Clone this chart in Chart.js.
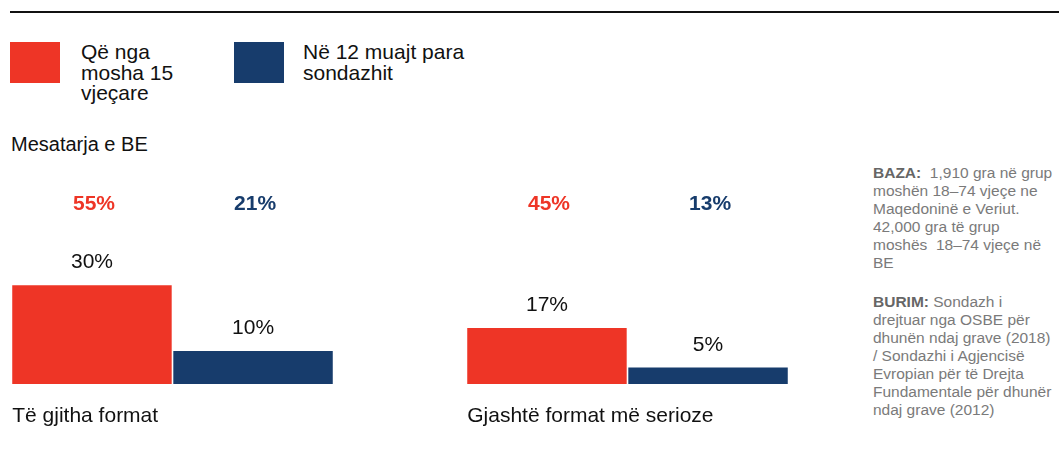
<!DOCTYPE html>
<html lang="sq">
<head>
    <meta charset="UTF-8">
    <title>Dhuna ndaj grave</title>
    <script src="https://cdn.jsdelivr.net/npm/chart.js"></script>
    <style>
        html, body {
            margin: 0;
            padding: 0;
            background: #fff;
            width: 1059px;
            height: 449px;
            overflow: hidden;
            font-family: "Liberation Sans", Arial, sans-serif;
            color: #111;
        }
        .top-rule {
            position: absolute;
            left: 10px;
            right: 0;
            top: 11px;
            height: 2px;
            background: #111;
        }
        .legend-item {
            position: absolute;
            top: 42px;
        }
        .legend-box {
            position: absolute;
            left: 0;
            top: 0;
            width: 50px;
            height: 41px;
        }
        .legend-text {
            position: absolute;
            top: 0;
            font-size: 21px;
            line-height: 20.5px;
            white-space: pre;
        }
        .eu-title {
            position: absolute;
            left: 11px;
            top: 133px;
            font-size: 20px;
            white-space: nowrap;
        }
        .notes {
            position: absolute;
            left: 873px;
            top: 164px;
            font-size: 15.5px;
            line-height: 18px;
            color: #7a7a7a;
        }
        .notes p { margin: 0 0 21px 0; white-space: pre; }
        .notes b { color: #666; }
        #chart-wrap {
            position: absolute;
            left: -55px;
            top: 180px;
            width: 910px;
            height: 260px;
        }
    </style>
</head>
<body>
    <div class="top-rule"></div>
    <div id="legend"></div>
    <div class="eu-title">Mesatarja e BE</div>
    <div class="notes"><p><b>BAZA:</b>  1,910 gra në grup
moshën 18–74 vjeçe ne
Maqedoninë e Veriut.
42,000 gra të grup
moshës  18–74 vjeçe në
BE</p><p><b>BURIM:</b> Sondazh i
drejtuar nga OSBE për
dhunën ndaj grave (2018)
/ Sondazhi i Agjencisë
Evropian për të Drejta
Fundamentale për dhunër
ndaj grave (2012)</p></div>
    <div id="chart-wrap"><canvas id="chart"></canvas></div>

    <script>
        // data
        const categories = ['Të gjitha format', 'Gjashtë format më serioze'];
        const seriesNames = ['Që nga\nmosha 15\nvjeçare', 'Në 12 muajt para\nsondazhit'];
        const sinceAge15 = [30, 17];
        const last12Months = [10, 5];
        const euSinceAge15 = [55, 45];
        const euLast12Months = [21, 13];
        const colors = ['#EE3526', '#173C6C'];

        // legend
        const legendPos = [{ box: 10, text: 81 }, { box: 234, text: 303 }];
        const legendEl = document.getElementById('legend');
        seriesNames.forEach((name, i) => {
            const item = document.createElement('div');
            item.className = 'legend-item';
            item.style.left = legendPos[i].box + 'px';
            item.innerHTML = `<div class="legend-box" style="background:${colors[i]}"></div>` +
                `<div class="legend-text" style="left:${legendPos[i].text - legendPos[i].box}px"></div>`;
            item.querySelector('.legend-text').textContent = name;
            legendEl.appendChild(item);
        });

        const euValues = [euSinceAge15, euLast12Months];

        const labelsPlugin = {
            id: 'barLabels',
            afterDatasetsDraw(chart) {
                const ctx = chart.ctx;
                const area = chart.chartArea;
                ctx.save();
                chart.data.datasets.forEach((ds, i) => {
                    const meta = chart.getDatasetMeta(i);
                    meta.data.forEach((bar, j) => {
                        // EU average, coloured
                        ctx.font = 'bold 21px "Liberation Sans", Arial, sans-serif';
                        ctx.fillStyle = colors[i];
                        ctx.textAlign = 'center';
                        ctx.textBaseline = 'middle';
                        ctx.fillText(euValues[i][j] + '%', bar.x + 2, area.top + 24);
                        // value above bar
                        ctx.font = '21px "Liberation Sans", Arial, sans-serif';
                        ctx.fillStyle = '#111';
                        ctx.textBaseline = 'alphabetic';
                        ctx.fillText(ds.data[j] + '%', bar.x, bar.y - 17);
                    });
                });
                // category names, left aligned under each group
                const first = chart.getDatasetMeta(0).data;
                ctx.font = '21px "Liberation Sans", Arial, sans-serif';
                ctx.fillStyle = '#111';
                ctx.textAlign = 'left';
                ctx.textBaseline = 'alphabetic';
                categories.forEach((c, j) => {
                    const bar = first[j];
                    ctx.fillText(c, bar.x - bar.width / 2, area.bottom + 38);
                });
                ctx.restore();
            }
        };

        new Chart(document.getElementById('chart'), {
            type: 'bar',
            data: {
                labels: categories,
                datasets: [
                    { label: seriesNames[0], data: sinceAge15, backgroundColor: colors[0] },
                    { label: seriesNames[1], data: last12Months, backgroundColor: colors[1] }
                ]
            },
            options: {
                responsive: true,
                maintainAspectRatio: false,
                animation: false,
                categoryPercentage: 0.708,
                barPercentage: 0.99,
                layout: { padding: { top: 0, bottom: 56, left: 0, right: 0 } },
                plugins: {
                    legend: { display: false },
                    tooltip: { enabled: false }
                },
                scales: {
                    x: { display: false },
                    y: { display: false, min: 0, max: 62 }
                }
            },
            plugins: [labelsPlugin]
        });
    </script>
</body>
</html>
